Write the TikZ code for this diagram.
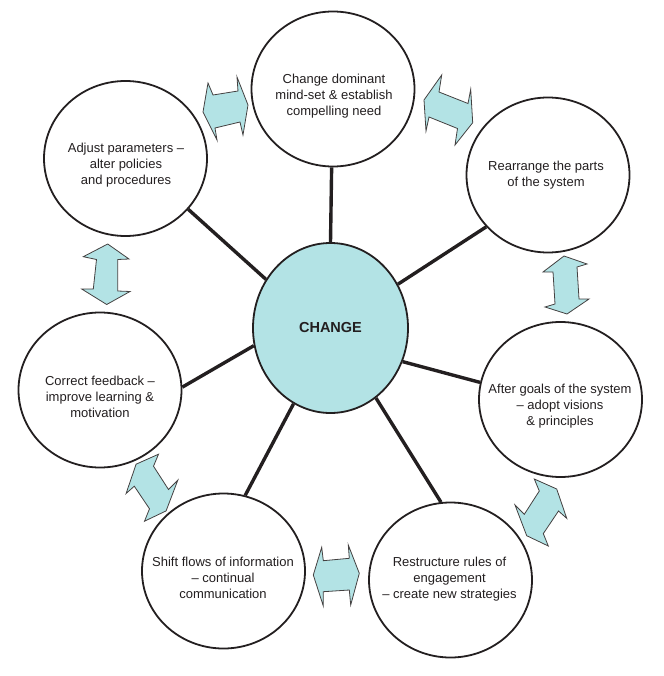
\documentclass[tikz,border=0pt]{standalone}
\usepackage{fontspec}
\setmainfont{Liberation Sans}
\usetikzlibrary{shapes.geometric}
\definecolor{cy}{RGB}{179,227,229}
\definecolor{ink}{RGB}{35,31,32}
\begin{document}
\begin{tikzpicture}[x=1pt,y=-1pt,
  bub/.style={draw=ink, line width=1.8pt, ellipse, fill=white, minimum width=163pt, minimum height=155pt, inner sep=0pt},
  hub/.style={draw=ink, line width=1.8pt, ellipse, fill=cy, minimum width=155pt, minimum height=170pt, inner sep=0pt, font=\fontsize{14.5}{17}\selectfont\bfseries, text=ink},
  txt/.style={align=center, font=\fontsize{13}{16}\selectfont, text=ink, inner sep=0pt},
  spoke/.style={draw=ink, line width=3.4pt},
  barrow/.style={draw=ink!85, line width=0.8pt, fill=cy, line join=miter}
]
\useasboundingbox (0,0) rectangle (663,676);

% nodes
\node[hub] (c) at (330.5,328) {CHANGE};
\node[bub] (top) at (333,89) {};
\node[bub] (rea) at (548,175) {};
\node[bub] (adj) at (125.5,158.5) {};
\node[bub] (cor) at (100,390) {};
\node[bub] (aft) at (560.5,399.5) {};
\node[bub] (shi) at (223.5,571) {};
\node[bub] (res) at (450.5,580) {};

% texts
\node[txt] (topT) at (334,96) {Change dominant\\mind-set \& establish\\compelling need};
\node[txt] (reaT) at (546,175) {Rearrange the parts\\of the system};
\node[txt] (adjT) at (126,165) {Adjust parameters --\\alter policies\\and procedures};
\node[txt] (corT) at (100,397) {Correct feedback --\\improve learning \&\\motivation};
\node[txt] (aftT) at (560,406.5) {After goals of the system\\-- adopt visions\\\& principles};
\node[txt] (shiT) at (223,578) {Shift flows of information\\-- continual\\communication};
\node[txt] (resT) at (449.5,579) {Restructure rules of\\engagement\\-- create new strategies};

% spokes
\draw[spoke] (c.90) -- (top.269);
\draw[spoke] (c.143) -- (adj.-39.8);
\draw[spoke] (c.33) -- (rea.220.4);
\draw[spoke] (c.193) -- (cor.2);
\draw[spoke] (c.-25.3) -- (aft.168.1);
\draw[spoke] (c.244) -- (shi.74.2);
\draw[spoke] (c.-57.3) -- (res.97.6);

% block double arrows
% Adjust <-> top
\draw[barrow] (203,112) -- (208,83) -- (213,95) -- (238,91) -- (237,77) -- (248,105) -- (243,135) -- (240,122) -- (215,128) -- (217,140) -- cycle;
% top <-> Rearrange
\draw[barrow] (424,100) -- (441.7,75) -- (439,92) -- (468,103.5) -- (470.7,89.3) -- (472.7,122.7) -- (455,145) -- (457.5,128.5) -- (429,117) -- (426,131) -- cycle;
% Rearrange <-> After
\draw[barrow] (564,256) -- (587,264) -- (577,267) -- (579,299) -- (589,299) -- (567,314) -- (545,307) -- (555,304) -- (553,272) -- (543,272) -- cycle;
% After <-> Restructure
\draw[barrow] (534.3,479) -- (556.7,489) -- (566.7,518.3) -- (558.5,511) -- (543.3,533.6) -- (548.3,546) -- (526.7,535.7) -- (515,505) -- (524.3,514.3) -- (539.3,491) -- cycle;
% Shift <-> Restructure
\draw[barrow] (313.3,575) -- (321.7,547.3) -- (323.3,560.7) -- (349.3,558.3) -- (348.3,545) -- (359.3,573.3) -- (350.7,605) -- (349.3,590) -- (323.3,591.7) -- (323.3,606) -- cycle;
% Correct <-> Shift
\draw[barrow] (158.5,454.2) -- (136.1,464.2) -- (126.1,493.5) -- (134.3,486.2) -- (149.5,508.8) -- (144.5,521.2) -- (166.1,510.9) -- (177.8,480.2) -- (168.5,489.5) -- (153.5,466.2) -- cycle;
% Adjust <-> Correct
\draw[barrow] (107.7,244) -- (129,259) -- (117.7,259.5) -- (117.7,291) -- (130,291.5) -- (106.7,304.5) -- (81.7,289) -- (93.3,289) -- (96.5,259.5) -- (83.3,256.7) -- cycle;
\end{tikzpicture}
\end{document}
